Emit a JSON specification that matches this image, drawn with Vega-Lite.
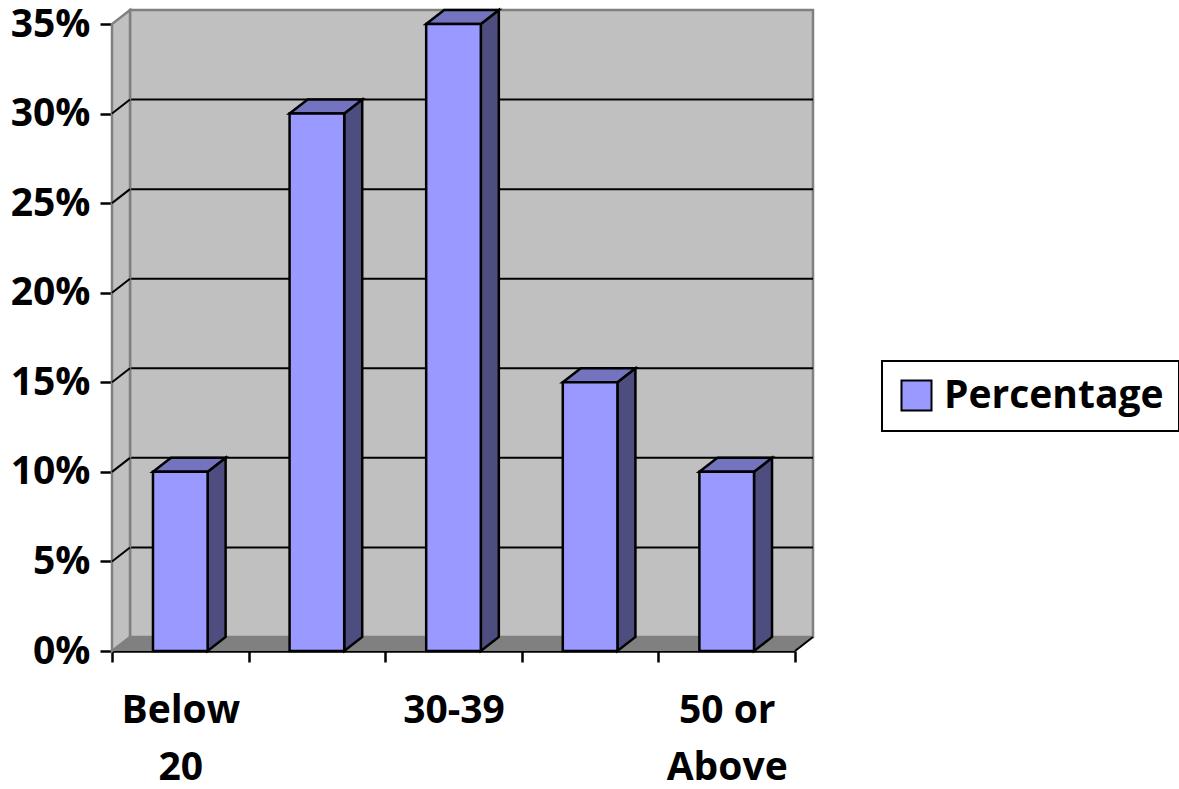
{
  "$schema": "https://vega.github.io/schema/vega-lite/v6.json",
  "width": 683,
  "height": 627,
  "autosize": {"type": "none"},
  "padding": {"left": 112, "top": 24, "right": 384, "bottom": 138},
  "background": "white",
  "datasets": {
    "ages": [
      {"category": "Below 20", "pct": 0.10},
      {"category": "20-29", "pct": 0.30},
      {"category": "30-39", "pct": 0.35},
      {"category": "40-49", "pct": 0.15},
      {"category": "50 or Above", "pct": 0.10}
    ],
    "levels": [
      {"level": 0.05}, {"level": 0.10}, {"level": 0.15},
      {"level": 0.20}, {"level": 0.25}, {"level": 0.30}
    ],
    "planes": [{"plane": "front"}, {"plane": "back"}]
  },
  "data": {"name": "ages"},
  "config": {
    "view": {"stroke": null},
    "font": "Open Sans",
    "axis": {
      "domainColor": "black",
      "domainWidth": 2.5,
      "tickColor": "black",
      "tickWidth": 2.5,
      "tickSize": 11,
      "labelFont": "Open Sans",
      "labelFontWeight": "bold",
      "labelFontSize": 39,
      "labelColor": "black",
      "grid": false,
      "zindex": 1
    },
    "axisX": {
      "tickBand": "extent",
      "labelAngle": 0,
      "labelPadding": 29,
      "labelLineHeight": 57,
      "labelOverlap": false,
      "labelExpr": "datum.label == 'Below 20' ? ['Below', '20'] : datum.label == '50 or Above' ? ['50 or', 'Above'] : datum.label == '30-39' ? datum.label : ''"
    },
    "axisY": {"tickSize": 12, "labelPadding": 10, "format": ".0%"}
  },
  "layer": [
    {
      "data": {"name": "planes"},
      "transform": [{"filter": "datum.plane == 'back'"}],
      "mark": {"type": "rect", "fill": "#c0c0c0", "stroke": "#808080", "strokeWidth": 2.5, "xOffset": 18, "x2Offset": 18, "yOffset": -14, "y2Offset": -14},
      "encoding": {
        "x": {"datum": "Below 20", "type": "nominal", "bandPosition": 0, "title": null,
              "scale": {"domain": ["Below 20", "20-29", "30-39", "40-49", "50 or Above"], "paddingInner": 0, "paddingOuter": 0}},
        "x2": {"datum": "50 or Above", "bandPosition": 1},
        "y": {"datum": 0, "type": "quantitative", "title": null, "scale": {"domain": [0, 0.35], "nice": false}},
        "y2": {"datum": 0.35}
      }
    },
    {
      "data": {"name": "levels"},
      "mark": {"type": "rule", "stroke": "black", "strokeWidth": 2, "xOffset": 18, "x2Offset": 18, "yOffset": -14},
      "encoding": {
        "x": {"datum": "Below 20", "type": "nominal", "bandPosition": 0, "title": null},
        "x2": {"datum": "50 or Above", "bandPosition": 1},
        "y": {"field": "level", "type": "quantitative", "title": null}
      }
    },
    {
      "data": {"name": "planes"},
      "transform": [{"filter": "datum.plane == 'back'"}],
      "mark": {"type": "rect", "fill": "#808080", "x2Offset": 18, "y2Offset": -14},
      "encoding": {
        "x": {"datum": "Below 20", "type": "nominal", "bandPosition": 0, "title": null},
        "x2": {"datum": "50 or Above", "bandPosition": 1},
        "y": {"datum": 0, "type": "quantitative", "title": null},
        "y2": {"datum": 0}
      }
    },
    {
      "data": {"name": "planes"},
      "mark": {
        "type": "area", "fill": "#c0c0c0", "stroke": "#808080", "strokeWidth": 2.5,
        "xOffset": {"expr": "datum.plane == 'back' ? 18 : 0"},
        "yOffset": {"expr": "datum.plane == 'back' ? -14 : 0"},
        "y2Offset": {"expr": "datum.plane == 'back' ? -14 : 0"}
      },
      "encoding": {
        "x": {"datum": "Below 20", "type": "nominal", "bandPosition": 0, "title": null},
        "y": {"datum": 0, "type": "quantitative", "title": null},
        "y2": {"datum": 0.35}
      }
    },
    {
      "data": {"name": "planes"},
      "mark": {
        "type": "area", "fill": "white",
        "xOffset": {"expr": "datum.plane == 'back' ? 18 : 0"},
        "yOffset": {"expr": "datum.plane == 'back' ? -14 : 0"}
      },
      "encoding": {
        "x": {"datum": "50 or Above", "type": "nominal", "bandPosition": 1, "title": null},
        "y": {"datum": 0, "type": "quantitative", "title": null},
        "y2": {"datum": 0}
      }
    },
    {
      "data": {"name": "planes"},
      "transform": [{"filter": "datum.plane == 'back'"}],
      "mark": {"type": "rule", "stroke": "black", "strokeWidth": 2, "x2Offset": 18, "y2Offset": -14},
      "encoding": {
        "x": {"datum": "50 or Above", "type": "nominal", "bandPosition": 1, "title": null},
        "x2": {"datum": "50 or Above", "bandPosition": 1},
        "y": {"datum": 0, "type": "quantitative", "title": null},
        "y2": {"datum": 0}
      }
    },
    {
      "data": {"name": "levels"},
      "mark": {"type": "rule", "stroke": "black", "strokeWidth": 2, "x2Offset": 18, "y2Offset": -14},
      "encoding": {
        "x": {"datum": "Below 20", "type": "nominal", "bandPosition": 0, "title": null},
        "x2": {"datum": "Below 20", "bandPosition": 0},
        "y": {"field": "level", "type": "quantitative", "title": null},
        "y2": {"field": "level"}
      }
    },
    {
      "transform": [{"fold": ["category", "pct"], "as": ["corner", "corner_value"]}],
      "mark": {
        "type": "area", "fill": "#4d4d80", "stroke": "black", "strokeWidth": 2.5, "strokeJoin": "miter",
        "xOffset": {"expr": "datum.corner == 'pct' ? 18 : 0"},
        "yOffset": {"expr": "datum.corner == 'pct' ? -14 : 0"},
        "y2Offset": {"expr": "datum.corner == 'pct' ? -14 : 0"}
      },
      "encoding": {
        "x": {"field": "category", "type": "nominal", "bandPosition": 0.7, "title": null},
        "y": {"field": "pct", "type": "quantitative", "stack": null, "title": null},
        "y2": {"datum": 0},
        "detail": {"field": "category"}
      }
    },
    {
      "mark": {
        "type": "point", "filled": true, "fill": "#7373bf", "stroke": "black", "strokeWidth": 2.5, "strokeJoin": "miter", "opacity": 1,
        "size": 4,
        "shape": "M-27.32,0L27.32,0L45.32,-14L-9.32,-14Z"
      },
      "encoding": {
        "x": {"field": "category", "type": "nominal", "title": null},
        "y": {"field": "pct", "type": "quantitative", "title": null}
      }
    },
    {
      "mark": {"type": "bar", "stroke": "black", "strokeWidth": 2.5, "width": {"band": 0.4}},
      "encoding": {
        "x": {"field": "category", "type": "nominal", "title": null,
              "scale": {"domain": ["Below 20", "20-29", "30-39", "40-49", "50 or Above"], "paddingInner": 0, "paddingOuter": 0}},
        "y": {"field": "pct", "type": "quantitative", "title": null,
              "scale": {"domain": [0, 0.35], "nice": false},
              "axis": {"values": [0, 0.05, 0.1, 0.15, 0.2, 0.25, 0.3, 0.35]}},
        "color": {
          "datum": "Percentage", "type": "nominal",
          "scale": {"range": ["#9999ff"]},
          "legend": {
            "title": null, "orient": "none", "legendX": 770, "legendY": 337,
            "symbolType": "square", "symbolSize": 900, "symbolStrokeColor": "black", "symbolStrokeWidth": 2,
            "symbolOpacity": 1,
            "labelFont": "Open Sans", "labelFontWeight": "bold", "labelFontSize": 39, "labelColor": "black",
            "labelLimit": 400, "labelOffset": 8, "strokeColor": "black", "padding": 15,
            "encode": {"legend": {"update": {"strokeWidth": {"value": 2}}}}
          }
        }
      }
    }
  ]
}
